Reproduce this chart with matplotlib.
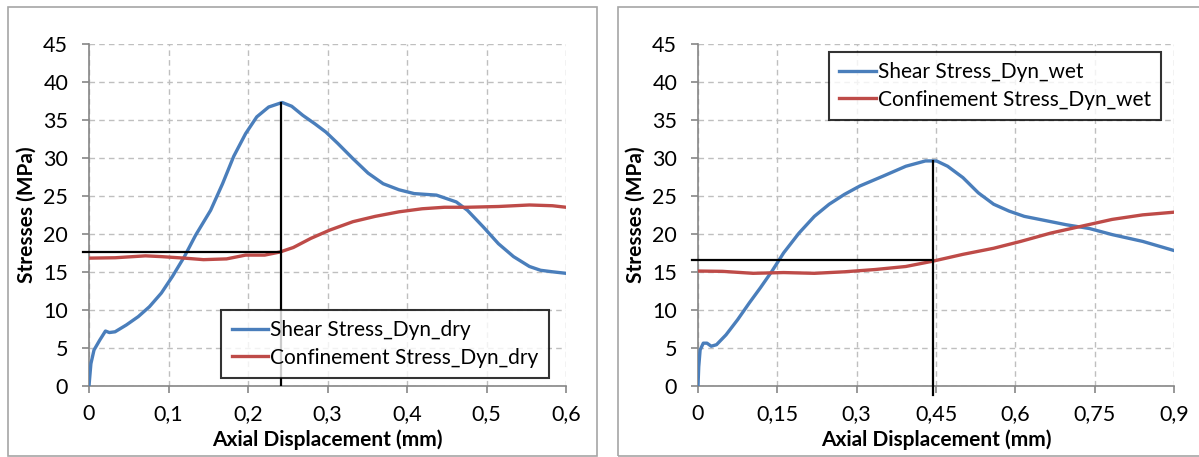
import matplotlib
matplotlib.use("Agg")
import matplotlib.pyplot as plt
from matplotlib.patches import Rectangle

plt.rcParams['font.family'] = ['Lato', 'DejaVu Sans']

# ---- dry test (left) ----
dry_shear_x = [0, 0.0024, 0.0063, 0.0135, 0.0207, 0.0256, 0.0328, 0.047, 0.062, 0.076, 0.091,
               0.105, 0.12, 0.134, 0.153, 0.168, 0.182, 0.197, 0.211, 0.226, 0.243, 0.255,
               0.269, 0.284, 0.298, 0.313, 0.332, 0.351, 0.37, 0.39, 0.409, 0.437, 0.462,
               0.476, 0.496, 0.515, 0.534, 0.554, 0.568, 0.583, 0.6]
dry_shear_y = [0, 2.9, 4.7, 6.0, 7.2, 7.0, 7.1, 8.0, 9.1, 10.4, 12.2,
               14.4, 17.0, 19.8, 23.1, 26.6, 30.2, 33.2, 35.4, 36.7, 37.3, 36.8,
               35.6, 34.5, 33.4, 31.9, 29.9, 28.0, 26.6, 25.8, 25.3, 25.1, 24.2,
               23.1, 20.9, 18.7, 17.0, 15.7, 15.2, 15.0, 14.8]
dry_conf_x = [0, 0.033, 0.071, 0.091, 0.12, 0.144, 0.173, 0.197, 0.221, 0.24, 0.257,
              0.279, 0.303, 0.332, 0.36, 0.39, 0.419, 0.447, 0.476, 0.515, 0.554, 0.583, 0.6]
dry_conf_y = [16.8, 16.85, 17.1, 17.0, 16.8, 16.6, 16.7, 17.2, 17.2, 17.6, 18.2,
              19.4, 20.5, 21.6, 22.3, 22.9, 23.3, 23.5, 23.5, 23.6, 23.8, 23.7, 23.5]
dry_peak = (0.242, 37.2, 17.6)   # x at peak, peak stress, confinement at peak

# ---- wet test (right) ----
wet_shear_x = [0, 0.0014, 0.004, 0.010, 0.017, 0.025, 0.035, 0.053, 0.075, 0.097, 0.118,
               0.14, 0.162, 0.191, 0.22, 0.248, 0.277, 0.306, 0.35, 0.393, 0.43, 0.451,
               0.472, 0.501, 0.53, 0.559, 0.588, 0.617, 0.653, 0.696, 0.74, 0.783, 0.841, 0.9]
wet_shear_y = [0, 2.5, 4.7, 5.6, 5.6, 5.2, 5.4, 6.7, 8.7, 10.9, 12.9,
               15.1, 17.5, 20.1, 22.3, 23.9, 25.2, 26.3, 27.6, 28.9, 29.6, 29.6,
               28.9, 27.4, 25.4, 23.9, 23.0, 22.3, 21.8, 21.2, 20.7, 19.9, 19.0, 17.8]
wet_conf_x = [0, 0.046, 0.104, 0.162, 0.22, 0.277, 0.335, 0.393, 0.444, 0.501, 0.559,
              0.61, 0.667, 0.725, 0.783, 0.841, 0.9]
wet_conf_y = [15.1, 15.06, 14.8, 14.9, 14.8, 15.0, 15.3, 15.7, 16.4, 17.3, 18.1,
              19.0, 20.1, 21.0, 21.9, 22.5, 22.85]
wet_peak = (0.4435, 29.6, 16.6)

dry_xticks = [0, 0.1, 0.2, 0.3, 0.4, 0.5, 0.6]
dry_xlabels = ['0', '0,1', '0,2', '0,3', '0,4', '0,5', '0,6']
wet_xticks = [0, 0.15, 0.3, 0.45, 0.6, 0.75, 0.9]
wet_xlabels = ['0', '0,15', '0,3', '0,45', '0,6', '0,75', '0,9']
yticks = [0, 5, 10, 15, 20, 25, 30, 35, 40, 45]

BLUE = '#4A7EBB'
RED = '#BE4B48'
AXIS = '#868686'
GRID = '#BFBFBF'

fig = plt.figure(figsize=(11.99, 4.57), dpi=100)
W, H = 1199, 457

# panel frames
fig.patches.append(Rectangle((8 / W, 1 / H), 589 / W, 449 / H, transform=fig.transFigure,
                             fill=False, edgecolor='#A6A6A6', linewidth=1.2))
fig.patches.append(Rectangle((618 / W, 1 / H), 590 / W, 449 / H, transform=fig.transFigure,
                             fill=False, edgecolor='#A6A6A6', linewidth=1.2))

ax1 = fig.add_axes([89 / W, 1 - 385.7 / H, 477 / W, 341.7 / H])
ax2 = fig.add_axes([698 / W, 1 - 385.7 / H, 476 / W, 341.7 / H])


def style(ax, xmax, xticks, xlabels):
    ax.set_xlim(0, xmax)
    ax.set_ylim(0, 45)
    ax.set_xticks(xticks)
    ax.set_xticklabels(xlabels)
    ax.set_yticks(yticks)
    ax.grid(True, color=GRID, linestyle=(0, (4, 3)), linewidth=1.0)
    ax.set_axisbelow(True)
    for s in ['top', 'right']:
        ax.spines[s].set_visible(False)
    for s in ['left', 'bottom']:
        ax.spines[s].set_color(AXIS)
        ax.spines[s].set_linewidth(1.2)
    ax.tick_params(direction='out', length=5, width=1.2, color=AXIS, labelsize=15.5)
    ax.tick_params(axis='x', pad=8)
    ax.tick_params(axis='y', pad=10)
    ax.set_xlabel('Axial Displacement (mm)', fontsize=15, fontweight='bold', labelpad=4)
    ax.set_ylabel('Stresses (MPa)', fontsize=15, fontweight='bold', labelpad=5)


style(ax1, 0.6, dry_xticks, dry_xlabels)
style(ax2, 0.9, wet_xticks, wet_xlabels)

ax1.plot(dry_shear_x, dry_shear_y, color=BLUE, lw=2.4, label='Shear Stress_Dyn_dry', zorder=3)
ax1.plot(dry_conf_x, dry_conf_y, color=RED, lw=2.4, label='Confinement Stress_Dyn_dry', zorder=3)
ax1.plot([-0.007, dry_peak[0]], [dry_peak[2], dry_peak[2]], color='black', lw=1.6,
         clip_on=False, zorder=4)
ax1.plot([dry_peak[0], dry_peak[0]], [0, dry_peak[1]], color='black', lw=1.6, zorder=4)

ax2.plot(wet_shear_x, wet_shear_y, color=BLUE, lw=2.4, label='Shear Stress_Dyn_wet', zorder=3)
ax2.plot(wet_conf_x, wet_conf_y, color=RED, lw=2.4, label='Confinement Stress_Dyn_wet', zorder=3)
ax2.plot([-0.012, wet_peak[0]], [wet_peak[2], wet_peak[2]], color='black', lw=1.6,
         clip_on=False, zorder=4)
ax2.plot([wet_peak[0], wet_peak[0]], [-1.2, wet_peak[1]], color='black', lw=1.6,
         clip_on=False, zorder=4)

for ax, loc, anchor in [(ax1, 'lower left', (0.277, 0.022)), (ax2, 'upper left', (0.275, 0.977))]:
    leg = ax.legend(loc=loc, bbox_to_anchor=anchor, fontsize=15, frameon=True, fancybox=False,
                    handlelength=1.75, handletextpad=0.1, borderpad=0.5, labelspacing=0.35,
                    borderaxespad=0)
    leg.get_frame().set_edgecolor('black')
    leg.get_frame().set_linewidth(1.5)
    leg.set_zorder(10)

fig.savefig('out.png', dpi=100)
